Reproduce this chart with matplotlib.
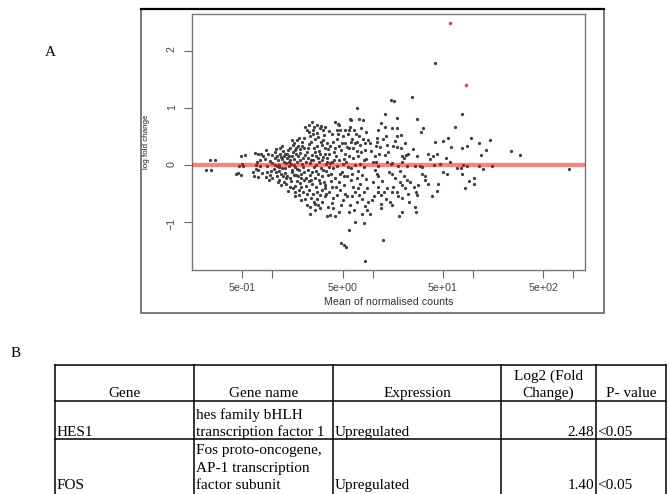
import matplotlib
matplotlib.use("Agg")
import matplotlib.pyplot as plt
from matplotlib.patches import Rectangle
from matplotlib.ticker import NullLocator
import numpy as np


# MA plot: (log10 mean of normalised counts, log2 fold change)
ma_points = [
    (-0.62, 0.08), (-0.57, 0.08), (-0.66, -0.09), (-0.61, -0.09),
    (-0.31, 0.16), (-0.27, 0.17), (-0.33, -0.01), (-0.29, -0.01), (-0.30, 0.01),
    (-0.36, -0.16), (-0.31, -0.17), (-0.34, -0.14),
    (-0.17, 0.21), (-0.14, 0.20), (-0.11, 0.19), (-0.09, 0.15), (-0.15, 0.06), (-0.12, 0.08),
    (-0.16, 0.00), (-0.12, -0.02), (-0.16, -0.07), (-0.14, -0.09), (-0.19, -0.12), (-0.10, -0.14),
    (-0.18, -0.19), (-0.14, -0.21),
    (-0.06, 0.26), (-0.04, 0.20), (-0.07, 0.11), (-0.02, 0.07), (0.00, 0.03), (0.02, 0.00),
    (-0.05, -0.02), (0.01, -0.07), (-0.05, -0.12), (-0.02, -0.17), (0.00, -0.22), (-0.06, -0.21),
    (-0.03, -0.27), (0.02, 0.23), (0.00, 0.17), (0.04, 0.15), (0.03, 0.28), (0.04, -0.02),
    (0.03, -0.12), (0.04, -0.19),
    (0.07, 0.20), (0.10, 0.24), (0.12, 0.20), (0.07, 0.30), (0.06, -0.03), (0.09, -0.06),
    (0.06, -0.10), (0.06, -0.26), (0.11, -0.29), (0.08, -0.35), (0.09, 0.10), (0.11, 0.05),
    (0.12, -0.14), (0.10, -0.20), (0.08, 0.14), (0.13, 0.03), (0.06, 0.00),
    (0.05, 0.09), (0.08, -0.15), (0.11, 0.15), (0.13, -0.23), (0.02, 0.12), (-0.01, -0.10),
    (0.05, -0.30), (0.09, 0.33), (0.12, -0.06), (0.14, 0.20),
    (0.14, 0.12), (0.16, 0.06), (0.19, 0.15), (0.16, -0.01), (0.21, 0.00), (0.22, -0.03),
    (0.14, -0.19), (0.17, -0.22), (0.21, -0.17), (0.13, -0.34), (0.17, -0.38), (0.22, -0.36),
    (0.17, 0.29), (0.20, 0.35), (0.22, 0.26), (0.15, 0.26), (0.19, -0.08), (0.20, 0.22),
    (0.18, -0.28), (0.15, -0.45), (0.17, 0.08), (0.23, -0.17),
    (0.16, 0.16), (0.18, 0.01), (0.19, -0.13), (0.21, 0.10), (0.23, 0.19), (0.24, -0.07),
    (0.25, -0.20), (0.27, 0.28), (0.28, -0.23), (0.29, 0.34), (0.30, -0.47), (0.19, 0.43),
    (0.23, 0.30), (0.26, -0.52), (0.20, -0.41),
    (0.24, 0.44), (0.26, 0.48), (0.29, 0.40), (0.25, 0.15), (0.27, 0.09), (0.30, 0.13),
    (0.26, -0.09), (0.28, -0.16), (0.31, -0.12), (0.24, -0.28), (0.27, -0.32), (0.31, -0.26),
    (0.22, -0.47), (0.26, -0.44), (0.28, -0.61), (0.32, -0.59), (0.24, 0.05), (0.29, 0.02),
    (0.30, -0.04), (0.27, 0.21), (0.25, 0.33), (0.21, 0.38), (0.28, -0.38), (0.22, -0.55),
    (0.32, 0.67), (0.36, 0.70), (0.34, 0.61), (0.31, 0.29), (0.34, 0.23), (0.36, 0.36),
    (0.37, 0.50), (0.40, 0.54), (0.42, 0.45), (0.44, 0.70), (0.47, 0.64), (0.48, 0.69),
    (0.50, 0.61), (0.52, 0.67), (0.39, 0.76), (0.39, 0.17), (0.42, 0.23), (0.45, 0.12),
    (0.47, 0.19), (0.49, 0.35), (0.52, 0.29), (0.54, 0.38), (0.37, 0.03), (0.41, -0.03),
    (0.43, 0.00), (0.37, -0.17), (0.42, -0.23), (0.45, -0.15), (0.49, -0.20), (0.39, -0.34),
    (0.43, -0.38), (0.47, -0.32), (0.36, -0.44), (0.40, -0.50), (0.44, -0.47), (0.49, -0.44),
    (0.53, -0.51), (0.34, -0.70), (0.37, -0.73), (0.42, -0.69), (0.37, -0.85), (0.42, -0.79),
    (0.49, -0.64), (0.52, -0.55), (0.54, -0.90), (0.54, 0.06), (0.56, -0.03), (0.55, -0.17),
    (0.33, 0.05), (0.35, -0.08), (0.38, 0.40), (0.41, 0.30), (0.44, 0.33), (0.46, 0.05),
    (0.48, -0.06), (0.50, 0.14), (0.51, -0.29), (0.33, -0.22), (0.35, 0.12), (0.40, 0.09),
    (0.46, -0.26), (0.45, 0.49), (0.50, 0.43), (0.38, -0.58), (0.44, -0.60), (0.52, 0.20),
    (0.53, -0.10), (0.47, -0.75),
    (0.31, 0.47), (0.32, 0.18), (0.33, -0.37), (0.35, 0.30), (0.36, -0.28), (0.38, 0.08),
    (0.39, -0.12), (0.40, 0.62), (0.41, -0.64), (0.43, 0.15), (0.43, -0.10), (0.44, 0.56),
    (0.46, 0.25), (0.47, -0.53), (0.48, 0.40), (0.50, -0.09), (0.51, 0.52), (0.52, -0.40),
    (0.53, 0.01), (0.34, -0.50), (0.36, 0.58), (0.38, -0.27), (0.41, 0.66), (0.45, -0.70),
    (0.49, 0.08), (0.55, 0.28),
    (0.62, 0.76), (0.66, 0.70), (0.67, 0.61), (0.77, 0.80), (0.78, 0.78), (0.86, 0.80),
    (0.90, 0.79), (0.77, 0.67), (0.76, 0.61), (0.81, 0.62), (0.93, 0.58), (0.59, 0.54),
    (0.86, 0.50), (0.90, 0.45), (0.84, 0.41), (0.95, 0.44), (0.92, 0.38), (0.79, 0.45),
    (0.78, 0.40), (0.82, 0.38), (0.72, 0.38), (0.74, 0.31), (0.92, 0.26), (0.88, 0.22),
    (0.85, 0.15), (0.91, 0.09), (0.72, 0.20), (0.76, 0.15), (0.71, 0.10), (0.66, 0.33),
    (0.62, 0.29), (0.61, 0.23), (0.56, 0.20), (0.66, 0.09), (0.59, 0.06), (0.54, 0.12),
    (0.87, 0.02), (0.91, -0.03), (0.64, -0.02), (0.70, 0.01), (0.60, -0.05), (0.75, -0.04),
    (0.82, 0.00), (0.57, 0.03),
    (0.92, -0.72), (0.94, -0.79), (0.95, -0.64), (0.66, -0.83), (0.62, -0.90), (0.57, -0.87),
    (0.76, -0.82), (0.55, -0.73), (0.59, -0.66), (0.79, -0.55), (0.86, -0.52), (0.91, -0.47),
    (0.82, -0.47), (0.72, -0.50), (0.67, -0.44), (0.64, -0.52), (0.56, -0.47), (0.59, -0.38),
    (0.52, -0.35), (0.91, -1.02), (0.82, -0.99), (0.76, -1.14), (0.68, -1.36), (0.71, -1.40),
    (0.73, -1.43), (0.92, -1.68),
    (0.60, 0.40), (0.64, 0.46), (0.70, 0.50), (0.68, 0.27), (0.80, 0.30), (0.84, 0.25),
    (0.63, 0.15), (0.69, -0.12), (0.74, -0.20), (0.78, -0.27), (0.85, -0.10), (0.89, -0.18),
    (0.62, -0.22), (0.58, -0.15), (0.66, -0.30), (0.71, -0.35), (0.80, -0.38), (0.87, -0.33),
    (0.93, -0.25), (0.57, 0.33), (0.75, 0.55), (0.88, 0.65), (0.70, -0.62), (0.84, -0.65),
    (0.60, -0.58), (0.77, -0.70), (0.89, -0.85), (0.65, 0.72),
    (0.56, 0.60), (0.58, -0.28), (0.61, 0.08), (0.63, -0.38), (0.65, 0.55), (0.67, -0.15),
    (0.69, 0.38), (0.71, -0.20), (0.73, 0.05), (0.74, -0.55), (0.76, 0.30), (0.78, -0.05),
    (0.80, 0.12), (0.81, -0.78), (0.83, 0.55), (0.85, -0.40), (0.87, 0.35), (0.89, -0.60),
    (0.93, 0.10), (0.94, -0.40), (0.60, -0.75), (0.64, 0.62), (0.68, -0.70), (0.72, 0.62),
    (0.79, -0.15), (0.84, -0.22),
    (1.62, 1.78), (1.39, 1.19), (1.18, 1.14), (1.21, 1.12), (0.84, 0.99), (1.12, 0.89),
    (1.24, 0.83), (1.44, 0.81), (1.08, 0.73), (1.19, 0.64), (1.24, 0.65), (1.12, 0.67),
    (1.50, 0.65), (1.48, 0.58), (1.82, 0.67), (1.05, 0.61), (1.28, 0.52), (1.24, 0.50),
    (1.13, 0.51), (1.04, 0.48), (1.75, 0.47), (1.70, 0.42), (1.62, 0.41), (1.04, 0.41),
    (1.03, 0.33), (1.07, 0.31), (1.14, 0.35), (1.20, 0.33), (1.24, 0.31), (1.28, 0.29),
    (1.78, 0.31), (1.44, 0.15), (1.35, 0.20), (1.33, 0.17), (1.29, 0.16), (1.31, 0.12),
    (1.29, 0.06), (1.55, 0.20), (1.60, 0.15), (1.57, 0.10), (1.64, 0.19), (1.73, 0.13),
    (1.77, 0.06), (1.12, 0.17), (1.15, 0.22), (1.02, 0.15), (1.00, 0.06), (1.03, 0.06),
    (1.19, 0.03), (1.14, 0.06),
    (0.98, 0.25), (1.00, -0.30), (1.06, 0.20), (1.09, -0.28), (1.10, 0.45), (1.16, -0.12),
    (1.22, 0.42), (1.27, -0.10), (1.32, 0.38), (1.37, -0.30), (1.40, 0.28), (0.97, 0.38),
    (1.13, -0.60), (1.36, -0.65),
    (1.05, -0.02), (1.18, 0.01), (1.25, -0.02), (1.34, -0.02), (1.42, -0.02), (1.47, -0.02),
    (1.49, -0.03), (1.61, 0.00), (1.67, 0.02), (1.84, -0.06),
    (1.02, -0.09), (1.04, -0.15), (1.05, -0.20), (1.19, -0.16), (1.22, -0.22), (1.31, -0.20),
    (1.34, -0.26), (1.49, -0.15), (1.52, -0.19), (1.70, -0.12), (1.74, -0.16), (1.27, -0.29),
    (1.29, -0.35), (1.32, -0.41), (1.41, -0.38), (1.43, -0.47), (1.45, -0.35), (1.52, -0.27),
    (1.55, -0.33), (1.65, -0.33), (1.64, -0.45), (1.59, -0.55), (1.20, -0.38), (1.19, -0.47),
    (1.24, -0.48), (1.14, -0.41), (1.11, -0.47), (1.08, -0.52), (1.05, -0.38), (1.05, -0.48),
    (1.01, -0.54), (1.25, -0.55), (1.29, -0.57), (1.35, -0.51), (1.44, -0.52), (1.42, -0.73),
    (1.43, -0.82), (1.29, -0.82), (1.26, -0.89), (1.19, -0.70), (1.17, -0.64), (1.10, -1.31),
    (1.08, -0.68), (1.08, -0.76), (0.97, -0.85), (0.99, -0.61),
    (1.89, 0.89), (1.98, 0.47), (2.17, 0.44), (2.06, 0.39), (1.94, 0.34), (1.89, 0.30),
    (2.13, 0.26), (2.38, 0.24), (2.47, 0.17), (2.08, 0.17), (1.90, 0.00), (1.94, -0.02),
    (2.06, -0.02), (2.19, -0.02), (1.88, -0.05), (2.10, -0.07), (2.96, -0.07), (1.89, -0.16),
    (2.01, -0.23), (1.96, -0.28), (2.01, -0.33), (1.92, -0.40),
]

# significant genes (red), fold changes are the ones in the table
sig_log_mean = [1.77, 1.93]

x_ticks = [0.5, 1, 5, 10, 50, 100, 500, 1000]
x_tick_labels = ["5e-01", "", "5e+00", "", "5e+01", "", "5e+02", ""]
y_ticks = [-1, 0, 1, 2]

header = ["Gene", "Gene name", "Expression", "Log2 (Fold\nChange)", "P- value"]
genes = ["HES1", "FOS"]
gene_names = ["hes family bHLH\ntranscription factor 1",
              "Fos proto-oncogene,\nAP-1 transcription\nfactor subunit"]
expression = ["Upregulated", "Upregulated"]
log2_fc = [2.48, 1.40]
p_values = ["<0.05", "<0.05"]


W, H = 669, 494
fig = plt.figure(figsize=(W / 100, H / 100), dpi=100)
fig.set_facecolor("white")

# page overlay in pixel units (frame, panel letters, table)
page = fig.add_axes([0, 0, 1, 1])
page.set_xlim(0, W)
page.set_ylim(H, 0)
page.axis("off")

page.add_patch(Rectangle((141, 9), 463, 304, fill=False, edgecolor="#6e6e6e", lw=1.3))
page.plot([141, 604], [9, 9], color="black", lw=1.6)

serif = ["Liberation Serif", "DejaVu Serif"]
fs = 11
page.text(50, 56, "A", family=serif, fontsize=fs, ha="center", va="baseline")
page.text(16, 357, "B", family=serif, fontsize=fs, ha="center", va="baseline")

# ---- MA plot
ax = fig.add_axes([192 / W, 1 - 270 / H, 393 / W, 256 / H])
pts = np.array(ma_points)
ax.scatter(10 ** pts[:, 0], pts[:, 1], s=5.5, c="#404040", linewidths=0, zorder=2)
ax.scatter(10 ** np.array(sig_log_mean), log2_fc, s=6, c="#ff2a2a", linewidths=0, zorder=2)
ax.axhline(0, color="red", alpha=0.5, lw=3, zorder=3)

ax.set_xscale("log")
ax.set_xlim(10 ** -0.8026, 10 ** 3.1157)
ax.set_ylim(-1.836, 2.640)
ax.set_xticks(x_ticks)
ax.set_xticklabels(x_tick_labels)
ax.xaxis.set_minor_locator(NullLocator())
ax.set_yticks(y_ticks)
ax.tick_params(direction="out", length=6, width=0.8, colors="#666666",
               labelcolor="#444444", labelsize=7.7, pad=3)
ax.tick_params(axis="y", labelrotation=90, pad=5)
for lab in ax.get_xticklabels() + ax.get_yticklabels():
    lab.set_family(["Liberation Sans", "DejaVu Sans"])
for sp in ax.spines.values():
    sp.set_color("#777777")
    sp.set_linewidth(1.0)

ax.set_xlabel("Mean of normalised counts", fontsize=7.7, color="#333333",
              family=["Liberation Sans", "DejaVu Sans"], labelpad=3)
ax.set_ylabel("log fold change", fontsize=5.8, color="#1a1a2a",
              family=["Liberation Sans", "DejaVu Sans"])
ax.yaxis.set_label_coords(-0.107, 0.5)

# ---- table B
col_x = [55, 194, 333, 501, 596, 666]
row_y = [365, 401, 439]
line_h = 17.5
for y in row_y:
    page.plot([col_x[0], col_x[-1]], [y, y], color="black", lw=1.1)
for x in col_x:
    page.plot([x, x], [row_y[0], H + 5], color="black", lw=1.1)


def cell(x, base, txt, ha):
    lines = txt.split("\n")
    for i, ln in enumerate(lines):
        page.text(x, base - (len(lines) - 1 - i) * line_h, ln, family=serif,
                  fontsize=fs, ha=ha, va="baseline", color="black")


for j, h in enumerate(header):
    cell((col_x[j] + col_x[j + 1]) / 2, 397, h, "center")

row_base = [436, 489]
for i in range(len(genes)):
    b = row_base[i]
    cell(col_x[0] + 2, b, genes[i], "left")
    cell(col_x[1] + 2, b, gene_names[i], "left")
    cell(col_x[2] + 1.5, b, expression[i], "left")
    cell(col_x[4] - 2, b, f"{log2_fc[i]:.2f}", "right")
    cell(col_x[4] + 1.5, b, p_values[i], "left")

fig.savefig("out.png", dpi=100)
